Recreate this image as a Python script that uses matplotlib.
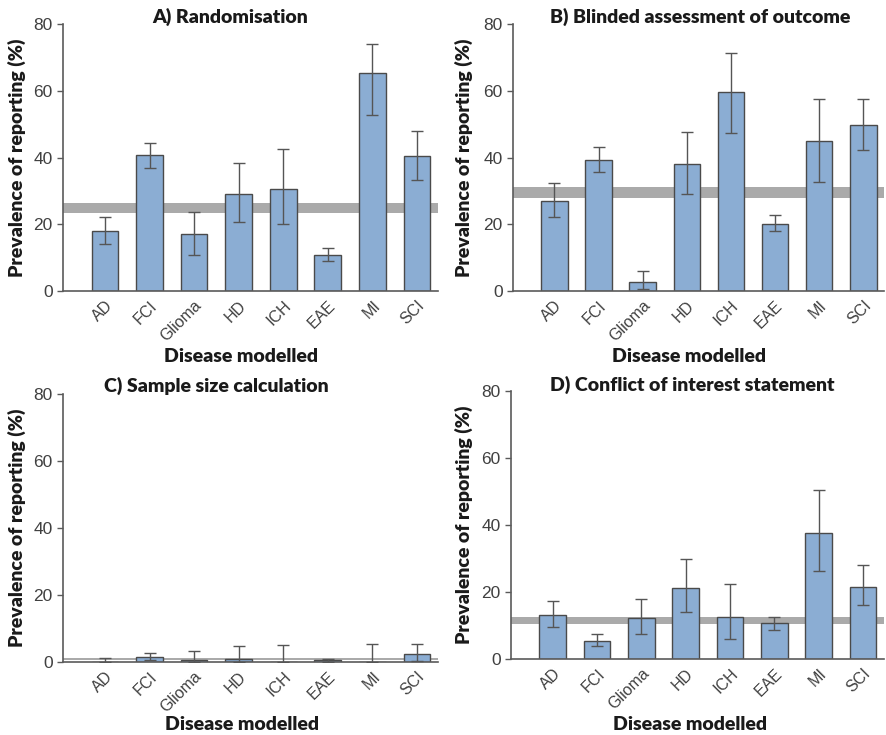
import matplotlib
matplotlib.use("Agg")
import matplotlib.pyplot as plt
import numpy as np

# ---------------- data ----------------
diseases = ["AD", "FCI", "Glioma", "HD", "ICH", "EAE", "MI", "SCI"]

titles = ["A) Randomisation",
          "B) Blinded assessment of outcome",
          "C) Sample size calculation",
          "D) Conflict of interest statement"]

rand_val = [18.0, 40.6, 17.1, 29.2, 30.5, 10.9, 65.4, 40.5]
rand_hi = [22.3, 44.2, 23.6, 38.5, 42.5, 13.0, 73.9, 48.0]
rand_lo = [14.0, 37.0, 10.8, 20.8, 20.1, 9.0, 52.7, 33.2]

blind_val = [27.1, 39.3, 2.7, 38.0, 59.6, 20.2, 44.8, 49.7]
blind_hi = [32.4, 43.2, 6.1, 47.7, 71.2, 22.8, 57.5, 57.4]
blind_lo = [22.2, 35.6, 0.7, 29.0, 47.4, 18.0, 32.8, 42.1]

ssc_val = [0.0, 1.6, 0.6, 0.9, 0.0, 0.5, 0.0, 2.3]
ssc_hi = [1.2, 2.7, 3.2, 4.8, 5.0, 1.0, 5.3, 5.5]
ssc_lo = [0.0, 0.5, 0.0, 0.0, 0.0, 0.0, 0.0, 0.3]

coi_val = [13.0, 5.4, 12.1, 21.2, 12.5, 10.6, 37.7, 21.6]
coi_hi = [17.2, 7.4, 17.8, 29.9, 22.5, 12.5, 50.3, 28.2]
coi_lo = [9.5, 3.8, 7.6, 14.1, 6.1, 8.6, 26.3, 16.0]

# overall prevalence band (lower, upper)
band_lo = [23.3, 27.8, 0.5, 10.4]
band_hi = [26.4, 31.3, 1.1, 12.6]

values = [rand_val, blind_val, ssc_val, coi_val]
upper = [rand_hi, blind_hi, ssc_hi, coi_hi]
lower = [rand_lo, blind_lo, ssc_lo, coi_lo]

# ---------------- figure ----------------
W, H = 886, 735
fig = plt.figure(figsize=(W / 100, H / 100), dpi=100)

# axes boxes in pixels: left, top, right, bottom
boxes = [(63, 24, 438, 291),
         (513, 24, 884, 291),
         (63, 394, 438, 662),
         (511, 391, 884, 659)]
# label centres in pixels
title_pos = [(230, 17), (700, 17), (216, 386), (692, 385)]
xlab_pos = [(241, 357), (689, 357), (242, 725), (690, 725)]
ylab_x = [17, 464, 17, 464]

bar_color = "#8badd3"
edge_color = "#4a4a4a"
axis_color = "#5a5a5a"
head_font = "Lato"

x = np.arange(len(diseases))

for i in range(4):
    l, t, r, b = boxes[i]
    ax = fig.add_axes([l / W, 1 - b / H, (r - l) / W, (b - t) / H])

    vals = np.array(values[i])
    yerr = [vals - np.array(lower[i]), np.array(upper[i]) - vals]

    ax.axhspan(band_lo[i], band_hi[i], color="#aaaaaa", lw=0, zorder=1)

    ax.bar(x, vals, width=0.6, color=bar_color, edgecolor=edge_color,
           linewidth=1.0, zorder=2)
    ax.errorbar(x, vals, yerr=yerr, fmt="none", ecolor="#555555",
                elinewidth=1.0, capsize=4, capthick=1.0, zorder=3)

    ax.set_xlim(-0.94, 7.47)
    ax.set_ylim(0, 80)
    ax.set_yticks([0, 20, 40, 60, 80])

    ax.set_xticks(x)
    ax.set_xticklabels(diseases, rotation=45, ha="right",
                       rotation_mode="anchor", fontsize=11.5,
                       color="#404040", family="Liberation Sans")
    for lab in ax.get_yticklabels():
        lab.set_family("Liberation Sans")
    ax.tick_params(axis="y", labelsize=12.5, labelcolor="#404040",
                   color=axis_color, length=4, width=1, direction="out")
    ax.tick_params(axis="x", length=0, pad=5)

    for s in ["top", "right"]:
        ax.spines[s].set_visible(False)
    for s in ["left", "bottom"]:
        ax.spines[s].set_color(axis_color)
        ax.spines[s].set_linewidth(1.2)
    ax.spines["left"].set_bounds(0, 80)

    tx, ty = title_pos[i]
    fig.text(tx / W, 1 - ty / H, titles[i], fontsize=14, fontweight="heavy",
             family=head_font, ha="center", va="center", color="#1a1a1a")

    ax.set_ylabel("Prevalence of reporting (%)", fontsize=14,
                  fontweight="heavy", family=head_font, color="#1a1a1a")
    ax.yaxis.label.set_va("center")
    ax.yaxis.set_label_coords((ylab_x[i] - l) / (r - l), 0.5)

    ax.set_xlabel("Disease modelled", fontsize=14, fontweight="heavy",
                  family=head_font, color="#1a1a1a")
    ax.xaxis.label.set_va("center")
    lx, ly = xlab_pos[i]
    ax.xaxis.set_label_coords((lx - l) / (r - l), (b - ly) / (b - t))

fig.savefig("out.png", dpi=100, facecolor="white")
